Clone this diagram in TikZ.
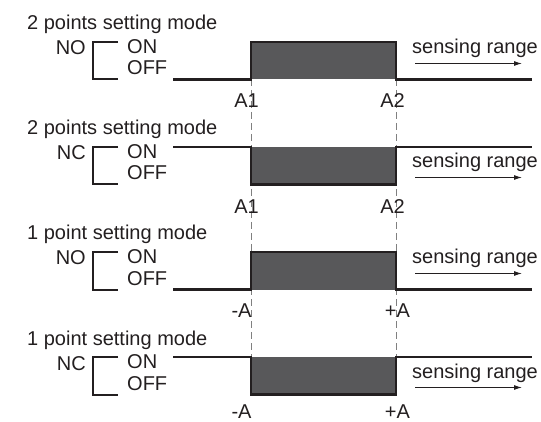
\documentclass[tikz,border=0pt]{standalone}
\usepackage{fontspec}
\setmainfont{Liberation Sans}
\usetikzlibrary{arrows.meta}
\definecolor{ink}{HTML}{231F20}
\definecolor{pulse}{HTML}{58585A}
\tikzset{
  wave/.style={line width=2.8pt,ink,line join=miter},
  brk/.style={line width=2pt,ink},
  guide/.style={line width=.9pt,gray,dash pattern=on 7pt off 4pt},
  txt/.style={inner sep=0pt,font=\fontsize{20}{22}\selectfont,text=ink},
  dirarrow/.style={line width=1pt,ink,-{Latex[length=8pt,width=5pt]}}
}
\begin{document}
\begin{tikzpicture}[x=1pt,y=-1pt]
\useasboundingbox (0,0) rectangle (541,422);
\draw[guide] (251,79) -- (251,357) (396,79) -- (396,357);
\foreach \i/\ttl/\md/\st/\en/\sy/\la/\xa/\lb/\xb/\ly in {
  0/2 points setting mode/NO/79.5/42/54/A1/246.5/A2/392.5/108,
  1/2 points setting mode/NC/42/79.5/63/A1/246.5/A2/392.5/109,
  2/1 point setting mode/NO/79.5/42/54/-A/241.5/+A/397.5/107,
  3/1 point setting mode/NC/42/79.5/63/-A/241.5/+A/397.5/103}{
\begin{scope}[yshift={-\i*105pt}]
  \node[txt,anchor=base west] (title\i) at (27,30) {\ttl};
  \node[txt,anchor=base east] (mode\i) at (86,55) {\md};
  \node[txt,anchor=base west] (on\i) at (127,53.5) {ON};
  \node[txt,anchor=base west] (off\i) at (127,75) {OFF};
  \draw[brk] (118,42) -- (93,42) -- (93,79.5) -- (118,79.5);
  \fill[pulse] (251,42) rectangle (396,79.5);
  \draw[wave] (173,\st) -- (251,\st) -- (251,\en) -- (396,\en) -- (396,\st) -- (532,\st);
  \node[txt,anchor=base west] (range\i) at (412,\sy) {sensing range};
  \coordinate (from\i) at (415,\sy+9.5);
  \coordinate (to\i) at (522,\sy+9.5);
  \draw[dirarrow] (from\i) -- (to\i);
  \node[txt,anchor=base] (left\i) at (\xa,\ly) {\la};
  \node[txt,anchor=base] (right\i) at (\xb,\ly) {\lb};
\end{scope}
}
\end{tikzpicture}
\end{document}
